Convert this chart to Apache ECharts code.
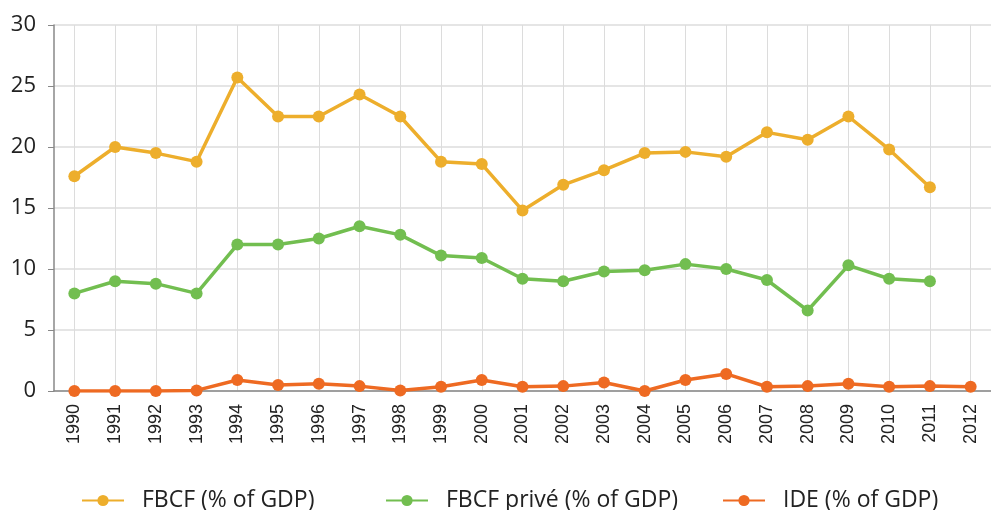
<!DOCTYPE html>
<html>
<head>
<meta charset="utf-8">
<script src="https://cdn.jsdelivr.net/npm/echarts@6/dist/echarts.min.js"></script>
<style>
  html, body { margin: 0; padding: 0; background: #fff; }
  #chart { width: 991px; height: 510px; }
</style>
</head>
<body>
<div id="chart"></div>
<script>
// années
var years = ['1990', '1991', '1992', '1993', '1994', '1995', '1996', '1997', '1998', '1999', '2000',
  '2001', '2002', '2003', '2004', '2005', '2006', '2007', '2008', '2009', '2010', '2011', '2012'];
// séries
var fbcf = [17.6, 20.0, 19.5, 18.8, 25.7, 22.5, 22.5, 24.3, 22.5, 18.8, 18.6,
  14.8, 16.9, 18.1, 19.5, 19.6, 19.2, 21.2, 20.6, 22.5, 19.8, 16.7, null];
var fbcfPrive = [8.0, 9.0, 8.8, 8.0, 12.0, 12.0, 12.5, 13.5, 12.8, 11.1, 10.9,
  9.2, 9.0, 9.8, 9.9, 10.4, 10.0, 9.1, 6.6, 10.3, 9.2, 9.0, null];
var ide = [0.0, 0.0, 0.0, 0.05, 0.9, 0.5, 0.6, 0.4, 0.05, 0.35, 0.9,
  0.35, 0.4, 0.7, 0.0, 0.9, 1.4, 0.35, 0.4, 0.6, 0.35, 0.4, 0.35];
var yTicks = [0, 5, 10, 15, 20, 25, 30];

var names = ['FBCF (% of GDP)', 'FBCF privé (% of GDP)', 'IDE (% of GDP)'];
var colors = ['#EDAE2C', '#72BE50', '#EE6A22'];

var myChart = echarts.init(document.getElementById('chart'));

function makeSeries(name, data, color) {
  return {
    name: name,
    type: 'line',
    data: data,
    symbol: 'circle',
    symbolSize: 12,
    lineStyle: { width: 3.5, color: color },
    itemStyle: { color: color },
    connectNulls: false
  };
}

//一个图例一个位置
function makeLegend(name, left) {
  return {
    data: [name],
    left: left,
    top: 484,
    itemWidth: 42,
    itemHeight: 14,
    textStyle: {
      fontFamily: 'Open Sans',
      fontSize: 23,
      color: '#222',
      padding: [0, 0, 0, 13]
    }
  };
}

var option = {
  animation: false,
  color: colors,
  grid: { left: 54, right: -13, top: 25, bottom: 119 },
  legend: [
    makeLegend(names[0], 76),
    makeLegend(names[1], 380),
    makeLegend(names[2], 717)
  ],
  xAxis: {
    type: 'category',
    data: years,
    boundaryGap: true,
    axisLine: { lineStyle: { color: '#888', width: 1.5 } },
    axisTick: { show: false },
    axisLabel: {
      rotate: 90,
      interval: 0,
      margin: 13,
      fontFamily: 'Liberation Sans',
      fontSize: 18,
      color: '#222'
    },
    splitLine: {
      show: true,
      alignWithLabel: true,
      lineStyle: { color: '#dcdcdc', width: 1 }
    }
  },
  yAxis: {
    type: 'value',
    min: yTicks[0],
    max: yTicks[yTicks.length - 1],
    interval: 5,
    axisLine: { show: true, lineStyle: { color: '#888', width: 1.5 } },
    axisTick: { show: true, length: 6, lineStyle: { color: '#888' } },
    axisLabel: {
      margin: 18,
      fontFamily: 'Open Sans',
      fontSize: 22,
      color: '#222'
    },
    splitLine: { lineStyle: { color: '#dcdcdc', width: 1.5 } }
  },
  series: [
    makeSeries(names[0], fbcf, colors[0]),
    makeSeries(names[1], fbcfPrive, colors[1]),
    makeSeries(names[2], ide, colors[2])
  ]
};

myChart.setOption(option);
window.addEventListener('resize', myChart.resize);
</script>
</body>
</html>
